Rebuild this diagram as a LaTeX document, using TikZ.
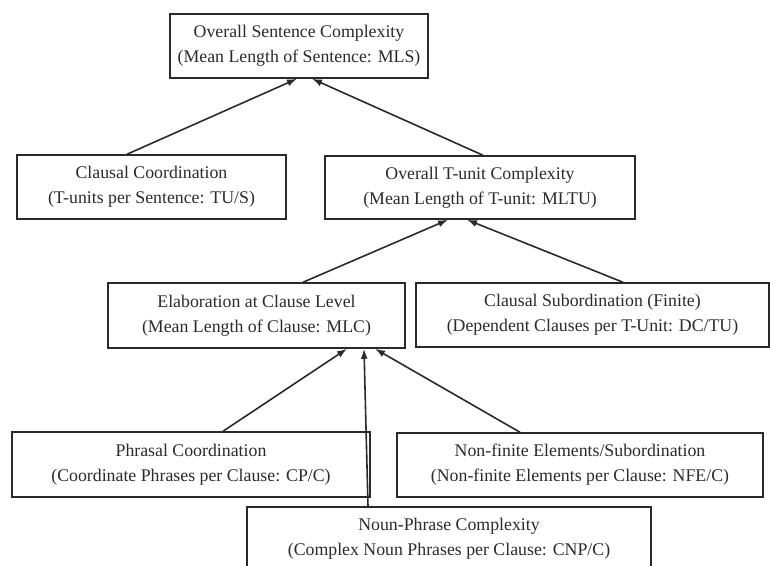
\documentclass[tikz,border=0pt]{standalone}
\usepackage{fontspec}
\setmainfont{Liberation Serif}
\usepackage{xcolor}
\usetikzlibrary{arrows.meta}
\definecolor{inkgray}{HTML}{2A2A2A}

\begin{document}
\begin{tikzpicture}[x=1pt, y=-1pt,
    measure/.style={draw=inkgray, line width=1.5pt, text=inkgray, align=center, inner sep=0pt,
        font=\fontsize{17.8}{25}\selectfont},
    feeds/.style={draw=inkgray, line width=1.6pt, -{Latex[length=10pt,width=7pt]}}]
    \useasboundingbox (0,0) rectangle (770,565);
    % top level
    \node[measure, minimum width=258pt, minimum height=64pt] (mls) at (299,46) {Overall Sentence Complexity\\(Mean Length of Sentence: MLS)};
    % second level
    \node[measure, minimum width=269pt, minimum height=64pt] (tus) at (151.5,187) {Clausal Coordination\\(T-units per Sentence: TU/S)};
    \node[measure, minimum width=310pt, minimum height=63pt] (mltu) at (480,187.5) {Overall T-unit Complexity\\(Mean Length of T-unit: MLTU)};
    % third level
    \node[measure, minimum width=297pt, minimum height=65pt] (mlc) at (256.5,315.5) {Elaboration at Clause Level\\(Mean Length of Clause: MLC)};
    \node[measure, minimum width=353pt, minimum height=64pt] (dctu) at (592.5,315) {Clausal Subordination (Finite)\\(Dependent Clauses per T-Unit: DC/TU)};
    % bottom level
    \node[measure, minimum width=358pt, minimum height=65pt] (cpc) at (191,464.5) {Phrasal Coordination\\(Coordinate Phrases per Clause: CP/C)};
    \node[measure, minimum width=366pt, minimum height=64pt] (nfec) at (580,465) {Non-finite Elements/Subordination\\(Non-finite Elements per Clause: NFE/C)};
    \node[measure, minimum width=404pt, minimum height=64pt] (cnpc) at (449,539) {Noun-Phrase Complexity\\(Complex Noun Phrases per Clause: CNP/C)};

    \draw[feeds] ([xshift=-24.5pt]tus.north) -- ([xshift=-2pt]mls.south);
    \draw[feeds] ([xshift=3pt]mltu.north) -- ([xshift=13pt]mls.south);
    \draw[feeds] ([xshift=46.5pt]mlc.north) -- ([xshift=-32pt]mltu.south);
    \draw[feeds] ([xshift=30.5pt]dctu.north) -- ([xshift=-13pt]mltu.south);
    \draw[feeds] ([xshift=32pt]cpc.north) -- ([xshift=90.5pt]mlc.south);
    \draw[feeds] ([xshift=-81pt]cnpc.north) -- ([xshift=107.5pt]mlc.south);
    \draw[feeds] ([xshift=-60pt]nfec.north) -- ([xshift=118.5pt]mlc.south);
\end{tikzpicture}
\end{document}
